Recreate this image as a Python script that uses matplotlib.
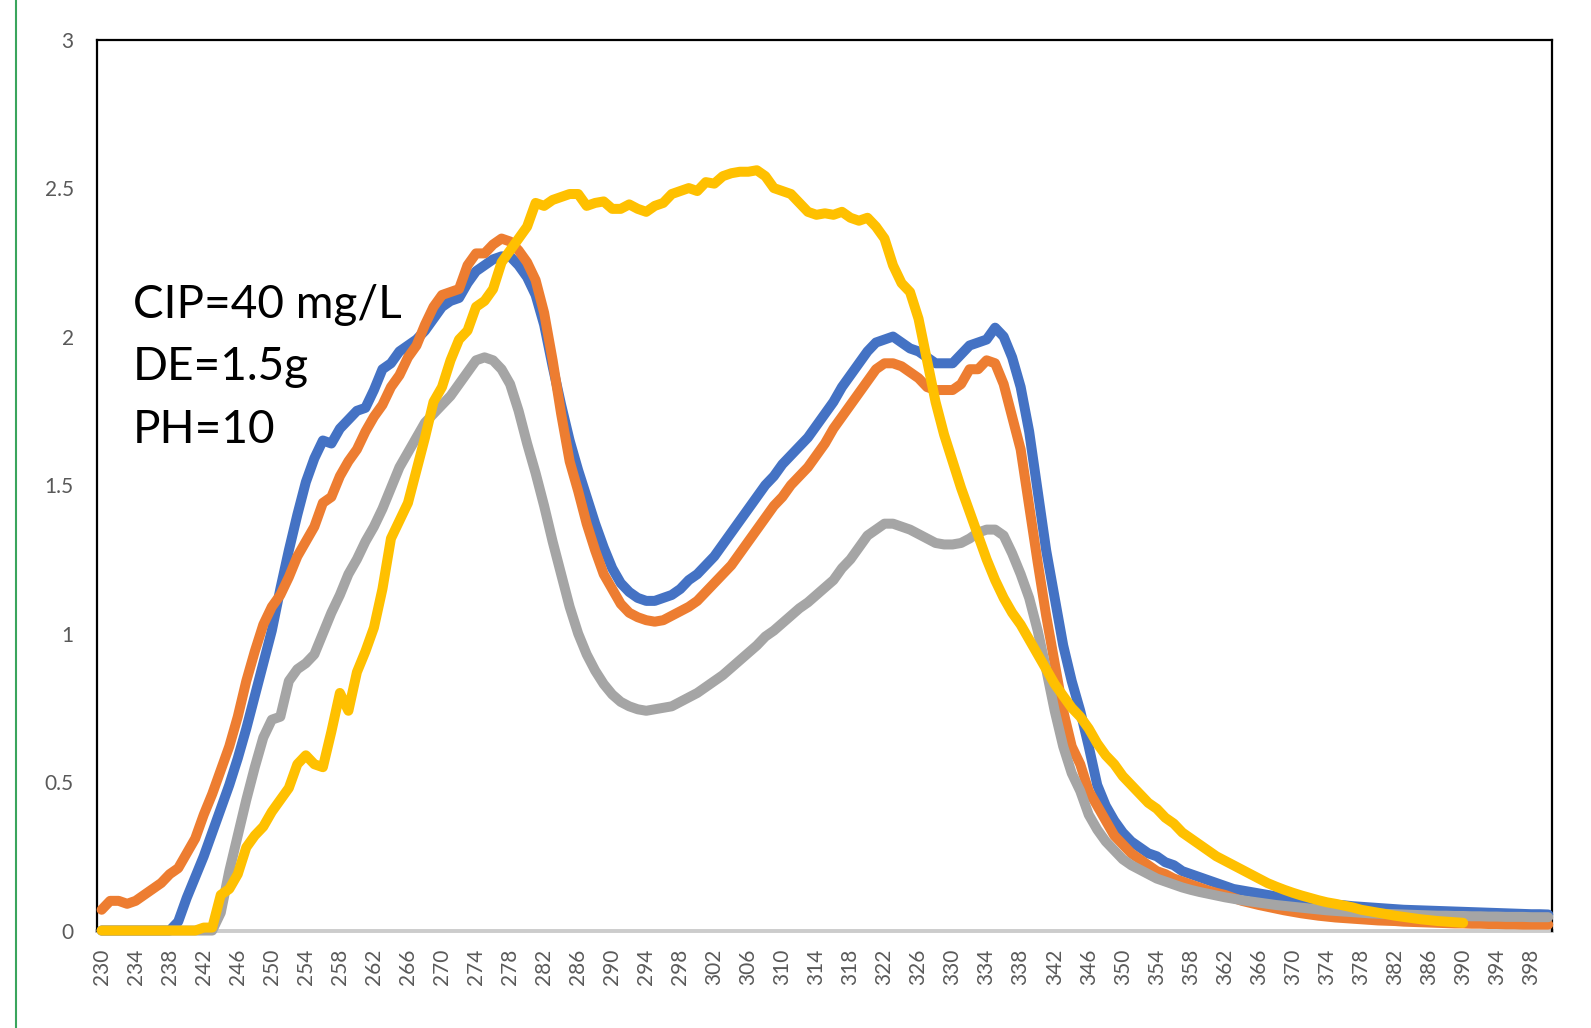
import matplotlib.pyplot as plt
import numpy as np

# wavelengths (nm), one point per nm
wavelength = list(range(230, 401))

blue = [0, 0, 0, 0, 0, 0, 0, 0, 0, 0.03,
        0.11, 0.18, 0.25, 0.33, 0.41, 0.49, 0.58, 0.68, 0.79, 0.90,
        1.01, 1.15, 1.28, 1.40, 1.51, 1.59, 1.65, 1.64, 1.69, 1.72,
        1.75, 1.76, 1.82, 1.89, 1.91, 1.95, 1.97, 1.99, 2.02, 2.06,
        2.10, 2.12, 2.13, 2.18, 2.22, 2.24, 2.26, 2.27, 2.27, 2.24,
        2.20, 2.14, 2.04, 1.90, 1.77, 1.65, 1.55, 1.46, 1.37, 1.29,
        1.22, 1.17, 1.14, 1.12, 1.11, 1.11, 1.12, 1.13, 1.15, 1.18,
        1.20, 1.23, 1.26, 1.30, 1.34, 1.38, 1.42, 1.46, 1.50, 1.53,
        1.57, 1.60, 1.63, 1.66, 1.70, 1.74, 1.78, 1.83, 1.87, 1.91,
        1.95, 1.98, 1.99, 2.00, 1.98, 1.96, 1.95, 1.93, 1.91, 1.91,
        1.91, 1.94, 1.97, 1.98, 1.99, 2.03, 2.00, 1.93, 1.83, 1.68,
        1.48, 1.28, 1.12, 0.96, 0.84, 0.74, 0.62, 0.49, 0.42, 0.37,
        0.33, 0.30, 0.28, 0.26, 0.25, 0.23, 0.22, 0.20, 0.19, 0.18,
        0.17, 0.16, 0.15, 0.14, 0.135, 0.13, 0.125, 0.12, 0.115, 0.11,
        0.105, 0.10, 0.097, 0.094, 0.09, 0.087, 0.085, 0.082, 0.08, 0.078,
        0.076, 0.074, 0.072, 0.07, 0.069, 0.068, 0.067, 0.066, 0.065, 0.064,
        0.063, 0.062, 0.061, 0.06, 0.059, 0.058, 0.057, 0.056, 0.055, 0.055,
        0.054]

orange = [0.07, 0.10, 0.10, 0.09, 0.10, 0.12, 0.14, 0.16, 0.19, 0.21,
          0.26, 0.31, 0.39, 0.46, 0.54, 0.62, 0.72, 0.84, 0.94, 1.03,
          1.09, 1.13, 1.19, 1.26, 1.31, 1.36, 1.44, 1.46, 1.53, 1.58,
          1.62, 1.68, 1.73, 1.77, 1.83, 1.87, 1.93, 1.97, 2.04, 2.10,
          2.14, 2.15, 2.16, 2.24, 2.28, 2.28, 2.31, 2.33, 2.32, 2.29,
          2.25, 2.19, 2.08, 1.92, 1.74, 1.58, 1.48, 1.37, 1.28, 1.20,
          1.15, 1.10, 1.07, 1.055, 1.045, 1.04, 1.045, 1.06, 1.075, 1.09,
          1.11, 1.14, 1.17, 1.20, 1.23, 1.27, 1.31, 1.35, 1.39, 1.43,
          1.46, 1.50, 1.53, 1.56, 1.60, 1.64, 1.69, 1.73, 1.77, 1.81,
          1.85, 1.89, 1.91, 1.91, 1.90, 1.88, 1.86, 1.83, 1.82, 1.82,
          1.82, 1.84, 1.89, 1.89, 1.92, 1.91, 1.84, 1.73, 1.62, 1.43,
          1.24, 1.06, 0.90, 0.74, 0.62, 0.56, 0.47, 0.42, 0.37, 0.32,
          0.29, 0.26, 0.24, 0.22, 0.20, 0.19, 0.175, 0.165, 0.155, 0.145,
          0.135, 0.127, 0.12, 0.11, 0.10, 0.093, 0.086, 0.08, 0.074, 0.068,
          0.063, 0.058, 0.054, 0.05, 0.047, 0.044, 0.042, 0.04, 0.038, 0.036,
          0.034, 0.033, 0.032, 0.03, 0.029, 0.028, 0.027, 0.026, 0.025, 0.024,
          0.024, 0.023, 0.023, 0.022, 0.022, 0.021, 0.021, 0.02, 0.02, 0.02,
          0.02]

gray = [0, 0, 0, 0, 0, 0, 0, 0, 0, 0,
        0, 0, 0, 0, 0.06, 0.20, 0.32, 0.44, 0.55, 0.65,
        0.71, 0.72, 0.84, 0.88, 0.90, 0.93, 1.00, 1.07, 1.13, 1.20,
        1.25, 1.31, 1.36, 1.42, 1.49, 1.56, 1.61, 1.66, 1.71, 1.74,
        1.77, 1.80, 1.84, 1.88, 1.92, 1.93, 1.92, 1.89, 1.84, 1.75,
        1.64, 1.54, 1.43, 1.31, 1.20, 1.09, 1.00, 0.93, 0.875, 0.83,
        0.795, 0.77, 0.755, 0.745, 0.74, 0.745, 0.75, 0.755, 0.77, 0.785,
        0.80, 0.82, 0.84, 0.86, 0.885, 0.91, 0.935, 0.96, 0.99, 1.01,
        1.035, 1.06, 1.085, 1.105, 1.13, 1.155, 1.18, 1.22, 1.25, 1.29,
        1.33, 1.35, 1.37, 1.37, 1.36, 1.35, 1.335, 1.32, 1.305, 1.30,
        1.30, 1.305, 1.32, 1.34, 1.35, 1.35, 1.33, 1.27, 1.20, 1.12,
        1.01, 0.88, 0.74, 0.62, 0.53, 0.47, 0.39, 0.34, 0.30, 0.27,
        0.24, 0.22, 0.205, 0.19, 0.175, 0.165, 0.155, 0.145, 0.137, 0.13,
        0.124, 0.118, 0.112, 0.107, 0.102, 0.098, 0.094, 0.09, 0.086, 0.083,
        0.08, 0.077, 0.074, 0.071, 0.068, 0.066, 0.064, 0.062, 0.06, 0.058,
        0.057, 0.056, 0.055, 0.054, 0.053, 0.052, 0.051, 0.05, 0.05, 0.049,
        0.049, 0.048, 0.048, 0.047, 0.047, 0.046, 0.046, 0.046, 0.045, 0.045,
        0.045]

# yellow series stops at 390 nm
yellow = [0, 0, 0, 0, 0, 0, 0, 0, 0, 0,
          0, 0, 0.01, 0.01, 0.12, 0.14, 0.19, 0.28, 0.32, 0.35,
          0.40, 0.44, 0.48, 0.56, 0.59, 0.56, 0.55, 0.67, 0.80, 0.74,
          0.87, 0.94, 1.02, 1.15, 1.32, 1.38, 1.44, 1.55, 1.66, 1.78,
          1.83, 1.92, 1.99, 2.02, 2.10, 2.12, 2.16, 2.25, 2.29, 2.33,
          2.37, 2.45, 2.44, 2.46, 2.47, 2.48, 2.48, 2.44, 2.45, 2.455,
          2.43, 2.43, 2.445, 2.43, 2.42, 2.44, 2.45, 2.48, 2.49, 2.50,
          2.49, 2.52, 2.515, 2.54, 2.55, 2.555, 2.555, 2.56, 2.54, 2.50,
          2.49, 2.48, 2.45, 2.42, 2.41, 2.415, 2.41, 2.42, 2.40, 2.39,
          2.40, 2.37, 2.33, 2.24, 2.18, 2.15, 2.06, 1.92, 1.78, 1.67,
          1.58, 1.49, 1.41, 1.33, 1.25, 1.18, 1.12, 1.07, 1.03, 0.98,
          0.93, 0.88, 0.83, 0.79, 0.75, 0.72, 0.68, 0.63, 0.59, 0.56,
          0.52, 0.49, 0.46, 0.43, 0.41, 0.38, 0.36, 0.33, 0.31, 0.29,
          0.27, 0.25, 0.235, 0.22, 0.205, 0.19, 0.175, 0.16, 0.148, 0.137,
          0.127, 0.118, 0.11, 0.102, 0.095, 0.09, 0.084, 0.078, 0.07, 0.065,
          0.06, 0.055, 0.05, 0.046, 0.042, 0.038, 0.035, 0.032, 0.03, 0.028,
          0.026]

series = [(blue, "#4472C4"), (orange, "#ED7D31"), (gray, "#A5A5A5"), (yellow, "#FFC000")]

y_ticks = [0, 0.5, 1, 1.5, 2, 2.5, 3]
y_labels = ["0", "0.5", "1", "1.5", "2", "2.5", "3"]
x_ticks = list(range(230, 399, 4))

notes = ["CIP=40 mg/L", "DE=1.5g", "PH=10"]

plt.rcParams['font.family'] = ['Lato', 'DejaVu Sans']

fig = plt.figure(figsize=(15.91, 10.28), dpi=100)
ax = fig.add_axes([0.0612, 0.0948, 0.9146, 0.8667])

for vals, col in series:
    ax.plot(wavelength[:len(vals)], vals, color=col, lw=7.2,
            solid_joinstyle='round', solid_capstyle='round', clip_on=False, zorder=3)

ax.set_xlim(229.5, 400.5)
ax.set_ylim(0, 3)

ax.set_yticks(y_ticks)
ax.set_yticklabels(y_labels)
ax.set_xticks(x_ticks)
ax.set_xticklabels([str(v) for v in x_ticks], rotation=90)
ax.tick_params(axis='both', length=0, labelsize=15, labelcolor='#595959')
ax.tick_params(axis='y', pad=17)
ax.tick_params(axis='x', pad=13)

for side in ['left', 'top', 'right']:
    ax.spines[side].set_color('black')
    ax.spines[side].set_linewidth(1.6)
ax.spines['bottom'].set_color('#cccccc')
ax.spines['bottom'].set_linewidth(2.8)
ax.spines['bottom'].set_zorder(2)

# condition labels
base_y = [317.6, 380.5, 443.4]
for txt, yp in zip(notes, base_y):
    fig.text(133 / 1591, 1 - yp / 1028, txt, fontsize=33, color='black', va='baseline', ha='left')

# green frame line at the left edge
fig.add_artist(plt.Line2D([15.5 / 1591, 15.5 / 1591], [0, 1], transform=fig.transFigure,
                          color='#3aa55d', lw=1.5))

fig.savefig("out.png", dpi=100)
